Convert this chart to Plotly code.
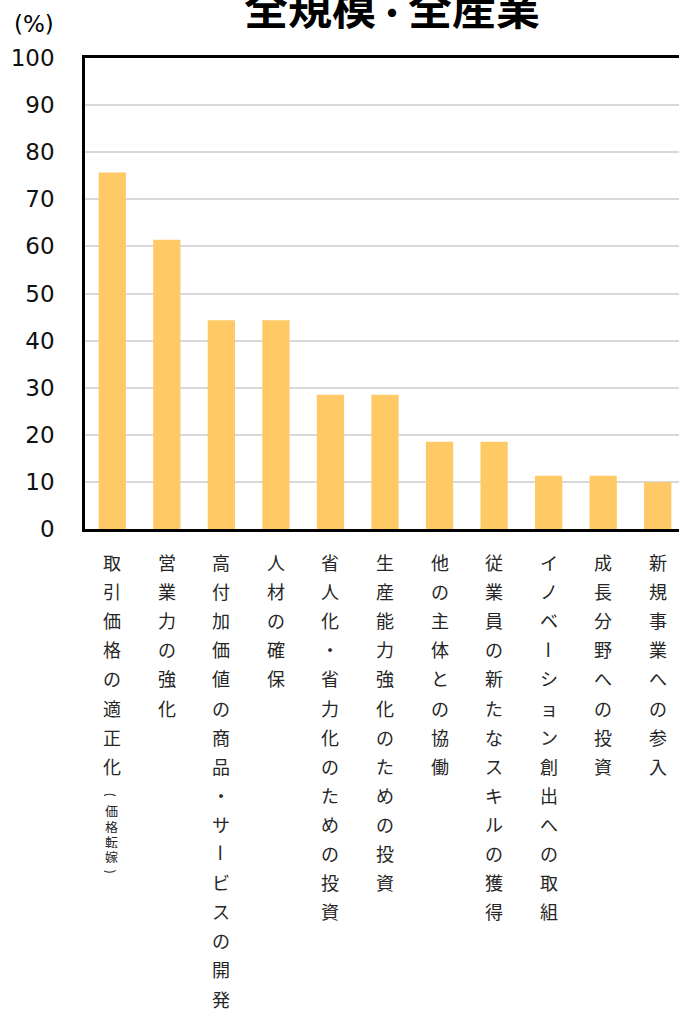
import plotly.graph_objects as go

# Survey items (share of firms, %), with an optional parenthetical note
categories = [
    "取引価格の適正化(価格転嫁)",
    "営業力の強化",
    "高付加価値の商品・サービスの開発",
    "人材の確保",
    "省人化・省力化のための投資",
    "生産能力強化のための投資",
    "他の主体との協働",
    "従業員の新たなスキルの獲得",
    "イノベーション創出への取組",
    "成長分野への投資",
    "新規事業への参入",
]
values = [75.7, 61.4, 44.3, 44.3, 28.5, 28.5, 18.5, 18.5, 11.3, 11.3, 9.9]
y_ticks = [0, 10, 20, 30, 40, 50, 60, 70, 80, 90, 100]
title_parts = ["全規模", "・", "全産業"]
unit_text = "(%)"

BAR_COLOR = "#FFC965"
TEXT_COLOR = "#262626"
JP_FONT = "Noto Sans CJK JP"

fig = go.Figure(
    go.Bar(
        x=categories,
        y=values,
        marker=dict(color=BAR_COLOR, line=dict(width=0)),
        width=0.5,
    )
)

# Vertical (tategaki) category labels, one character per annotation
annotations = []
CHAR_STEP = 29.1
FIRST_OFFSET = 33
NOTE_STEP = 15.4
for cat in categories:
    if "(" in cat:
        main, note = cat.split("(", 1)
        note = note.rstrip(")")
    else:
        main, note = cat, ""
    for i, ch in enumerate(main):
        annotations.append(dict(
            x=cat, xref="x", y=0, yref="paper",
            yanchor="middle", xanchor="center",
            yshift=-(FIRST_OFFSET + i * CHAR_STEP),
            height=20,
            text=ch, showarrow=False,
            textangle=90 if ch == "ー" else 0,
            font=dict(family=JP_FONT, size=18, color=TEXT_COLOR),
        ))
    if note:
        start = FIRST_OFFSET + (len(main) - 1) * CHAR_STEP + 29
        small = ["("] + list(note) + [")"]
        for j, ch in enumerate(small):
            annotations.append(dict(
                x=cat, xref="x", y=0, yref="paper",
                yanchor="middle", xanchor="center",
                xshift=-1,
                yshift=-(start + j * NOTE_STEP),
                height=14,
                text=ch, showarrow=False,
                textangle=90 if ch in "()" else 0,
                font=dict(family=JP_FONT, size=13, color=TEXT_COLOR),
            ))

# Unit label above the value axis
annotations.append(dict(
    x=0, xref="paper", y=1, yref="paper",
    xanchor="center", yanchor="middle",
    xshift=-51, yshift=34,
    text=unit_text, showarrow=False,
    font=dict(family="DejaVu Sans", size=23, color="#000000"),
))

# Heading, partly running off the top edge
title_html = (
    "<b>" + title_parts[0]
    + '<span style="font-size:32px">' + title_parts[1] + "</span>"
    + title_parts[2] + "</b>"
)
annotations.append(dict(
    x=(392 - 85) / 594, xref="paper", y=1, yref="paper",
    xanchor="center", yanchor="middle",
    yshift=52,
    text=title_html, showarrow=False,
    font=dict(family=JP_FONT, size=44, color="#000000", weight=900),
))

fig.update_layout(
    width=679,
    height=1010,
    margin=dict(l=85, r=0, t=58, b=481),
    paper_bgcolor="white",
    plot_bgcolor="white",
    showlegend=False,
    bargap=0.5,
    annotations=annotations,
    xaxis=dict(
        type="category",
        range=[-0.5, 10.39],
        showticklabels=False,
        showline=True, linecolor="black", linewidth=2.5,
        mirror=True,
        showgrid=False, zeroline=False,
        fixedrange=True,
    ),
    yaxis=dict(
        range=[0, 100],
        tickvals=y_ticks,
        ticktext=[str(v) for v in y_ticks],
        tickfont=dict(family="DejaVu Sans", size=23, color="#111111"),
        ticks="",
        ticklabelstandoff=23,
        showline=True, linecolor="black", linewidth=2.5,
        showgrid=True, gridcolor="#D9D9D9", gridwidth=2,
        zeroline=False,
        fixedrange=True,
    ),
)

fig.write_html("out.html")
